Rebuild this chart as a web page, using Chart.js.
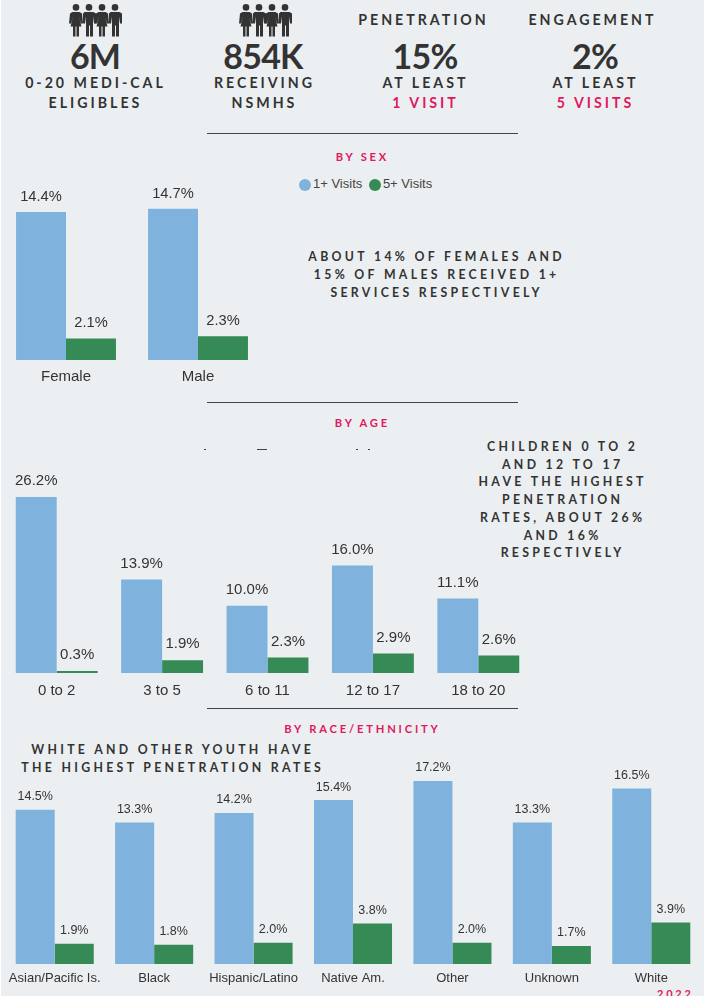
<!DOCTYPE html>
<html>
<head>
<meta charset="utf-8">
<script src="https://cdn.jsdelivr.net/npm/chart.js@4"></script>
<style>
  html, body { margin: 0; padding: 0; background: #fff; }
  #page { position: absolute; left: 1px; top: 0; width: 703px; height: 996px; background: #eceff1; overflow: hidden; }
  .t { position: absolute; transform: translate(-50%, -50%); white-space: nowrap; text-align: center; font-family: Lato, "Open Sans", sans-serif; font-weight: 700; color: #333; }
  .big { font-size: 34px; letter-spacing: -0.8px; line-height: 34px; }
  .cap { font-size: 14.2px; letter-spacing: .21em; padding-left: .21em; line-height: 20px; }
  .sec { font-size: 11.2px; letter-spacing: .25em; padding-left: .25em; color: #e0185f; }
  .note { font-size: 12.3px; letter-spacing: .27em; padding-left: .27em; }
  .pink { color: #e0185f; }
  .rule { position: absolute; left: 206px; width: 311px; height: 1px; background: #444; }
  .speck { position: absolute; top: 449px; height: 1px; background: #444; }
  canvas { position: absolute; }
  .icon { position: absolute; top: 4px; width: 54px; height: 33px; fill: #333; }
  #legend { position: absolute; left: 298px; top: 175px; font: 13px "Liberation Sans", Arial, sans-serif; color: #444; white-space: nowrap; }
  #legend span { display: inline-block; vertical-align: middle; margin-right: 3px; }
  #legend i { display: inline-block; width: 12px; height: 12px; border-radius: 50%; vertical-align: middle; margin-right: 2px; }
</style>
</head>
<body>
<div id="page">
  <svg width="0" height="0" style="position:absolute">
    <defs>
      <g id="man"><circle cx="7" cy="3.4" r="3.3"/><path d="M2.5 8h9l2.5 1.5 0 10-2 0-1-7 0 20-3 0 0-11-1 0 0 11-3 0 0-20-1 7-2 0 0-10z"/></g>
      <g id="woman"><circle cx="7" cy="3.4" r="3.3"/><path d="M3.5 8h7l2.5 1.5 1 10-2 0-2-7 2.5 10-2.5 0 0 10-2.5 0 0-10-1 0 0 10-2.5 0 0-10-2.5 0 2.5-10-2 7-2 0 1-10z"/></g>
    </defs>
  </svg>
  <svg class="icon" style="left:68px" viewBox="0 0 54 33"><use href="#woman"/><use href="#man" x="13"/><use href="#woman" x="26"/><use href="#man" x="39"/></svg>
  <svg class="icon" style="left:238px" viewBox="0 0 54 33"><use href="#woman"/><use href="#man" x="13"/><use href="#woman" x="26"/><use href="#man" x="39"/></svg>

  <div class="t cap" style="left:421px;top:20px">PENETRATION</div>
  <div class="t cap" style="left:590px;top:20px">ENGAGEMENT</div>

  <div class="t big" style="left:94px;top:56px">6M</div>
  <div class="t big" style="left:262px;top:56px">854K</div>
  <div class="t big" style="left:424px;top:56px">15%</div>
  <div class="t big" style="left:594px;top:56px">2%</div>

  <div class="t cap" style="left:93px;top:93px">0-20 MEDI-CAL<br>ELIGIBLES</div>
  <div class="t cap" style="left:262px;top:93px">RECEIVING<br>NSMHS</div>
  <div class="t cap" style="left:423px;top:93px">AT LEAST<br><span class="pink">1 VISIT</span></div>
  <div class="t cap" style="left:593px;top:93px">AT LEAST<br><span class="pink">5 VISITS</span></div>

  <div class="rule" style="top:133px"></div>
  <div class="t sec" style="left:360px;top:156px">BY SEX</div>
  <div id="legend"></div>
  <div class="t note" style="left:434px;top:275px;line-height:18px">ABOUT 14% OF FEMALES AND<br>15% OF MALES RECEIVED 1+<br>SERVICES RESPECTIVELY</div>

  <div class="rule" style="top:402px"></div>
  <div class="t sec" style="left:360px;top:422px">BY AGE</div>
  <div class="speck" style="left:203px;width:2px"></div>
  <div class="speck" style="left:256px;width:10px"></div>
  <div class="speck" style="left:355px;width:2px"></div>
  <div class="speck" style="left:367px;width:2px"></div>
  <div class="t note" style="left:560px;top:500px;line-height:17.7px">CHILDREN 0 TO 2<br>AND 12 TO 17<br>HAVE THE HIGHEST<br>PENETRATION<br>RATES, ABOUT 26%<br>AND 16%<br>RESPECTIVELY</div>

  <div class="rule" style="top:708px"></div>
  <div class="t sec" style="left:360px;top:728px">BY RACE/ETHNICITY</div>
  <div class="t note" style="left:170px;top:759px;line-height:18px">WHITE AND OTHER YOUTH HAVE<br>THE HIGHEST PENETRATION RATES</div>

  <div class="t sec" style="left:673px;top:993px;font-size:11px">2022</div>

  <canvas id="chart-sex"></canvas>
  <canvas id="chart-age"></canvas>
  <canvas id="chart-race"></canvas>
</div>

<script>
// ── Data ──
const SERIES_NAMES = ['1+ Visits', '5+ Visits'];
const SERIES_COLORS = ['#7fb3de', '#368a55'];

const SEX_LABELS = ['Female', 'Male'];
const SEX_ONE_PLUS = [14.4, 14.7];
const SEX_FIVE_PLUS = [2.1, 2.3];

const AGE_LABELS = ['0 to 2', '3 to 5', '6 to 11', '12 to 17', '18 to 20'];
const AGE_ONE_PLUS = [26.2, 13.9, 10.0, 16.0, 11.1];
const AGE_FIVE_PLUS = [0.3, 1.9, 2.3, 2.9, 2.6];

const RACE_LABELS = ['Asian/Pacific Is.', 'Black', 'Hispanic/Latino', 'Native Am.', 'Other', 'Unknown', 'White'];
const RACE_ONE_PLUS = [14.5, 13.3, 14.2, 15.4, 17.2, 13.3, 16.5];
const RACE_FIVE_PLUS = [1.9, 1.8, 2.0, 3.8, 2.0, 1.7, 3.9];

// ── Value labels above the bars ──
const valueLabels = {
  id: 'valueLabels',
  afterDatasetsDraw(chart, args, opts) {
    const ctx = chart.ctx;
    ctx.save();
    ctx.font = opts.size + 'px "Liberation Sans", Arial, sans-serif';
    ctx.fillStyle = '#333';
    ctx.textAlign = 'center';
    ctx.textBaseline = 'middle';
    chart.data.datasets.forEach(function(ds, i) {
      chart.getDatasetMeta(i).data.forEach(function(bar, j) {
        ctx.fillText(ds.data[j].toFixed(1) + '%', bar.x, bar.y - opts.gap);
      });
    });
    ctx.restore();
  },
};

// ── Draw one grouped bar chart ──
function drawBars(id, box, labels, one, five, cfg) {
  const canvas = document.getElementById(id);
  canvas.style.left = (box.left - 1) + 'px';
  canvas.style.top = box.top + 'px';
  canvas.style.width = box.width + 'px';
  canvas.style.height = box.height + 'px';
  canvas.width = box.width;
  canvas.height = box.height;

  return new Chart(canvas.getContext('2d'), {
    type: 'bar',
    plugins: [valueLabels],
    data: {
      labels: labels,
      datasets: [
        { label: SERIES_NAMES[0], data: one, backgroundColor: SERIES_COLORS[0] },
        { label: SERIES_NAMES[1], data: five, backgroundColor: SERIES_COLORS[1] },
      ],
    },
    options: {
      responsive: false,
      animation: false,
      layout: { padding: 0 },
      datasets: { bar: { categoryPercentage: cfg.groupWidth, barPercentage: 1 } },
      plugins: {
        legend: { display: false },
        tooltip: { enabled: false },
        valueLabels: { size: cfg.valueSize, gap: cfg.gap },
      },
      scales: {
        x: {
          grid: { display: false, drawTicks: false },
          border: { display: false },
          // keep the plot the full canvas width, wide tick labels must not shrink it
          afterFit: function(scale) {
            scale.height = box.axis;
            scale.paddingLeft = 0;
            scale.paddingRight = 0;
          },
          ticks: {
            color: '#333',
            padding: cfg.tickPad,
            maxRotation: 0,
            autoSkip: false,
            font: { family: '"Liberation Sans", Arial, sans-serif', size: cfg.tickSize },
          },
        },
        y: { display: false, min: 0, max: cfg.max },
      },
    },
  });
}

// ── Legend ──
document.getElementById('legend').innerHTML = SERIES_NAMES.map(function(name, i) {
  return '<span><i style="background:' + SERIES_COLORS[i] + '"></i>' + name + '</span>';
}).join(' ');

drawBars('chart-sex', { left: 0, top: 180, width: 264, height: 210, axis: 30 },
  SEX_LABELS, SEX_ONE_PLUS, SEX_FIVE_PLUS,
  { max: 17.5, groupWidth: 0.757, valueSize: 14.7, gap: 15, tickSize: 15, tickPad: 8 });

drawBars('chart-age', { left: 4, top: 470, width: 527, height: 233, axis: 30 },
  AGE_LABELS, AGE_ONE_PLUS, AGE_FIVE_PLUS,
  { max: 30.2, groupWidth: 0.777, valueSize: 15, gap: 16, tickSize: 15, tickPad: 9 });

drawBars('chart-race', { left: 5, top: 760, width: 696, height: 234, axis: 30 },
  RACE_LABELS, RACE_ONE_PLUS, RACE_FIVE_PLUS,
  { max: 19.17, groupWidth: 0.785, valueSize: 12.5, gap: 13, tickSize: 13, tickPad: 7 });
</script>
</body>
</html>
